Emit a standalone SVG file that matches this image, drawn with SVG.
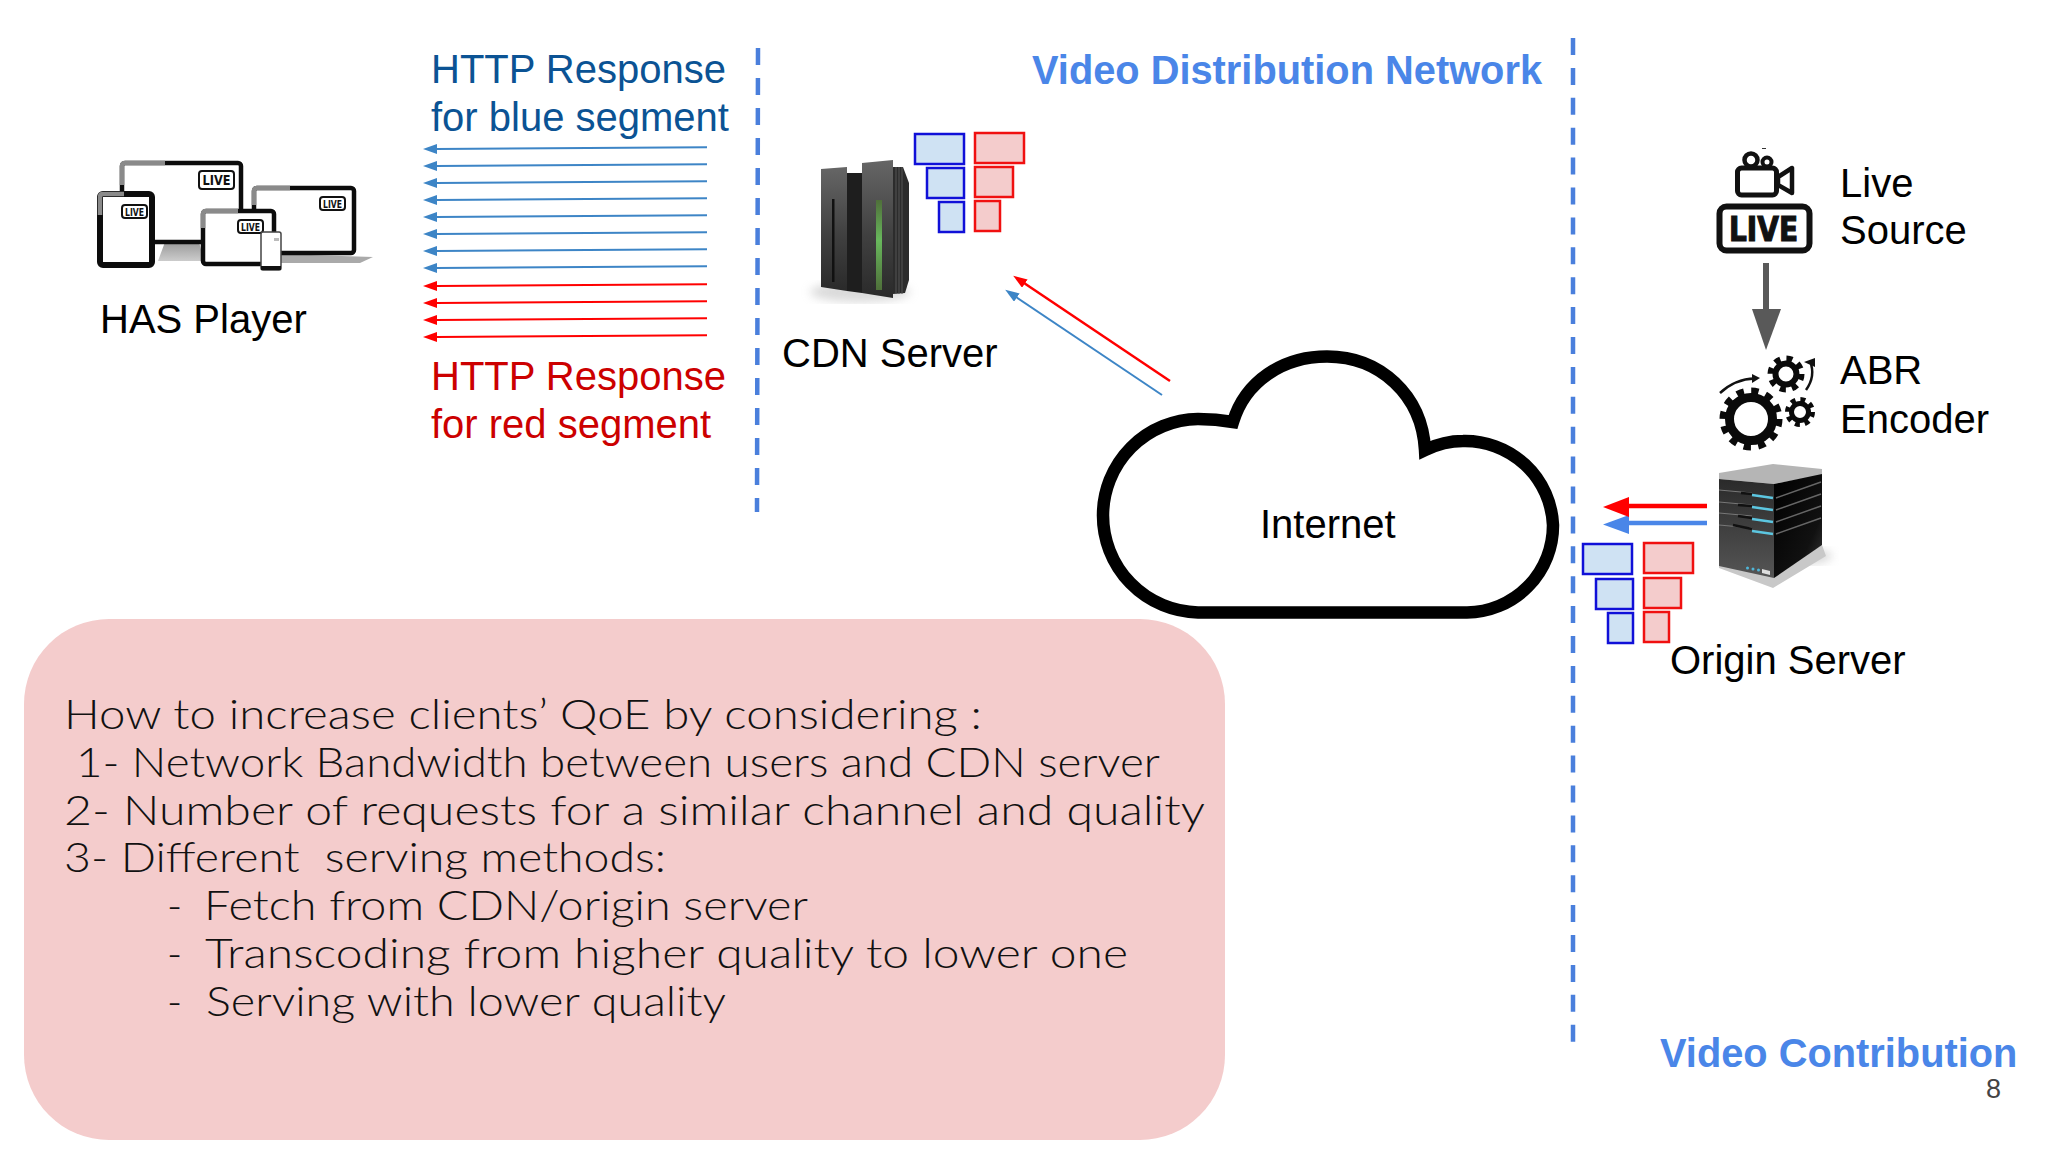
<svg xmlns="http://www.w3.org/2000/svg" width="2048" height="1152" viewBox="0 0 2048 1152">
<style>
text{font-family:"Liberation Sans",Arial,sans-serif;font-size:40px;fill:#000}
.blue{fill:#0b5394}.red{fill:#cc0000}
.title{font-weight:bold;fill:#4a86e8;font-size:39.800px}
.qoe{font-family:"Lato","Noto Sans",sans-serif;font-size:41px;font-weight:300;fill:#111}
.sb{fill:#cfe2f3;stroke:#1010d8;stroke-width:2.500}
.sr{fill:#f4cccc;stroke:#f01010;stroke-width:2.500}
.dash{stroke:#4a7fdc;stroke-width:4.500;fill:none;stroke-dasharray:17 13}
.resp{fill:none;stroke-width:2}
.b{stroke:#3d85c6}.r{stroke:#f00}
.tag{fill:#fff;stroke:#111;stroke-width:2}
.tagt{font-family:"DejaVu Sans",sans-serif;font-weight:bold;font-size:10px;fill:#111}
.dev{fill:#fff;stroke:#0c0c0c;stroke-width:4.500}
.edge{fill:none;stroke:#8a8a8a;stroke-width:4.500}
</style>
<defs>
<marker id="mb" markerUnits="userSpaceOnUse" markerWidth="14" markerHeight="10" refX="1" refY="5" orient="auto"><path d="M0 0L14 5L0 10z" fill="#3d85c6"/></marker>
<marker id="mr" markerUnits="userSpaceOnUse" markerWidth="14" markerHeight="10" refX="1" refY="5" orient="auto"><path d="M0 0L14 5L0 10z" fill="#f00"/></marker>
<linearGradient id="panel" x1="0" y1="0" x2="0" y2="1"><stop offset="0" stop-color="#666"/><stop offset=".55" stop-color="#404040"/><stop offset="1" stop-color="#2a2a2a"/></linearGradient>
<linearGradient id="green" x1="0" y1="0" x2="0" y2="1"><stop offset="0" stop-color="#4f6f3a"/><stop offset=".45" stop-color="#68b85c"/><stop offset="1" stop-color="#4f6f3a"/></linearGradient>
<linearGradient id="face" x1="0" y1="0" x2="0" y2="1"><stop offset="0" stop-color="#2a2a2a"/><stop offset="1" stop-color="#555"/></linearGradient>
<linearGradient id="side" x1="0" y1="0" x2="1" y2="1"><stop offset="0" stop-color="#000"/><stop offset=".7" stop-color="#111"/><stop offset="1" stop-color="#3a3a3a"/></linearGradient>
<linearGradient id="stand" x1="0" y1="0" x2="0" y2="1"><stop offset="0" stop-color="#999"/><stop offset="1" stop-color="#ccc"/></linearGradient>
<filter id="blur"><feGaussianBlur stdDeviation="5"/></filter>
</defs>
<rect width="2048" height="1152" fill="#fff"/>

<g id="qoe-box">
<rect x="24" y="619" width="1201" height="521" rx="85" ry="85" fill="#f4cccc"/>
<text class="qoe" x="64" y="729" textLength="918" lengthAdjust="spacingAndGlyphs">How to increase clients’ QoE by considering :</text>
<text class="qoe" x="76" y="777" textLength="1084" lengthAdjust="spacingAndGlyphs">1- Network Bandwidth between users and CDN server</text>
<text class="qoe" x="64" y="825" textLength="1141" lengthAdjust="spacingAndGlyphs">2- Number of requests for a similar channel and quality</text>
<text class="qoe" x="64" y="872" textLength="602" lengthAdjust="spacingAndGlyphs" xml:space="preserve">3- Different  serving methods:</text>
<text class="qoe" x="167" y="920">-</text><text class="qoe" x="204" y="920" textLength="604" lengthAdjust="spacingAndGlyphs">Fetch from CDN/origin server</text>
<text class="qoe" x="167" y="968">-</text><text class="qoe" x="205" y="968" textLength="923" lengthAdjust="spacingAndGlyphs">Transcoding from higher quality to lower one</text>
<text class="qoe" x="167" y="1016">-</text><text class="qoe" x="206" y="1016" textLength="520" lengthAdjust="spacingAndGlyphs">Serving with lower quality</text>
</g>

<g id="has-player">
<path d="M165 242L199 242L203 257L205 261L158 261Z" fill="url(#stand)"/>
<rect class="dev" x="122" y="163" width="119" height="79" rx="3"/>
<path class="edge" d="M122 185V166Q122 163 125 163H165"/>
<rect class="tag" x="199" y="171" width="35" height="18" rx="3"/><text class="tagt" x="202.500" y="185" textLength="28" lengthAdjust="spacingAndGlyphs" style="font-size:14px">LIVE</text>
<path d="M280 254L373 257L360 263L280 263Z" fill="#aaa"/>
<rect class="dev" x="254" y="188" width="100" height="65" rx="3"/>
<path class="edge" d="M254 205V191Q254 188 257 188H290"/>
<rect class="tag" x="320" y="197" width="25" height="13" rx="3"/><text class="tagt" x="323" y="207.500" textLength="19" lengthAdjust="spacingAndGlyphs">LIVE</text>
<rect class="dev" x="100" y="194" width="52" height="71" rx="3" style="stroke-width:6"/>
<path class="edge" d="M100 215V197Q100 194 103 194H124"/>
<rect class="tag" x="122" y="205" width="25" height="13" rx="3"/><text class="tagt" x="125" y="215.500" textLength="19" lengthAdjust="spacingAndGlyphs">LIVE</text>
<rect class="dev" x="203" y="211" width="71" height="53" rx="3"/>
<path class="edge" d="M203 228V214Q203 211 206 211H238"/>
<rect class="tag" x="238" y="220" width="25" height="13" rx="3"/><text class="tagt" x="241" y="230.500" textLength="19" lengthAdjust="spacingAndGlyphs">LIVE</text>
<rect x="261" y="232" width="20" height="38" rx="2" fill="#fff" stroke="#444" stroke-width="1.500"/>
<rect x="261" y="266" width="20" height="4" fill="#111"/>
<rect x="274" y="238" width="5" height="3" fill="#bbb"/>
<text x="100" y="333">HAS Player</text>
</g>

<g id="response-labels">
<text class="blue" x="431" y="83">HTTP Response</text>
<text class="blue" x="431" y="131">for blue segment</text>
<text class="red" x="431" y="390">HTTP Response</text>
<text class="red" x="431" y="438">for red segment</text>
</g>

<g id="boundaries">
<path class="dash" d="M758 48L757 512"/>
<path class="dash" d="M1573 38V1042" style="stroke-dasharray:17 12.900"/>
<text class="title" x="1032" y="84">Video Distribution Network</text>
<text class="title" x="1660" y="1067">Video Contribution</text>
<text x="1986" y="1098" style="font-size:27px;fill:#444">8</text>
</g>

<g id="cdn-server">
<ellipse cx="860" cy="292" rx="50" ry="10" fill="#bbb" opacity=".55" filter="url(#blur)"/>
<path d="M893 167L903 167L909 183L909 280L905 293L893 294Z" fill="#2c2c2c"/>
<path d="M896 167V294M899 167V294M902 167V294" stroke="#555" stroke-width="1"/>
<path d="M847 173H862V293L847 291Z" fill="#1e1e1e"/>
<path d="M821 169L847 167V291L821 287Z" fill="url(#panel)"/>
<path d="M862 163L893 160V298L862 293Z" fill="url(#panel)"/>
<rect x="832" y="199" width="2.500" height="83" fill="#111"/>
<rect x="876" y="200" width="6" height="90" fill="url(#green)"/>
<rect class="sb" x="915" y="134" width="49" height="30"/>
<rect class="sb" x="927" y="168" width="37" height="30"/>
<rect class="sb" x="939" y="202" width="25" height="30"/>
<rect class="sr" x="975" y="133" width="49" height="30"/>
<rect class="sr" x="975" y="167" width="38" height="30"/>
<rect class="sr" x="975" y="201" width="25" height="30"/>
<text x="782" y="367">CDN Server</text>
</g>

<g id="internet">
<path d="M1198 612.500H1467A87 87 0 0 0 1553 525A88 88 0 0 0 1463 441Q1444 441 1425 450C1422 395 1380 356.500 1327 356.500C1282 356.500 1245 382 1233 422Q1216 419 1198 419A96.500 96.500 0 0 0 1103 515A97 97 0 0 0 1198 612.500Z" fill="#fff" stroke="#000" stroke-width="12.500" stroke-linejoin="miter"/>
<text x="1260" y="538">Internet</text>
</g>

<g id="live-source">
<rect x="1719.500" y="206.500" width="90" height="44" rx="7" fill="#fff" stroke="#111" stroke-width="6"/>
<text x="1729" y="241" textLength="69" lengthAdjust="spacingAndGlyphs" style="font-family:'DejaVu Sans',sans-serif;font-weight:bold;font-size:33px;fill:#111;stroke:#111;stroke-width:1.200">LIVE</text>
<rect x="1737.500" y="168" width="39" height="27" rx="4" fill="#fff" stroke="#111" stroke-width="5"/>
<path d="M1778 177L1792 168V193L1778 185Z" fill="#fff" stroke="#111" stroke-width="4.500" stroke-linejoin="round"/>
<circle cx="1751" cy="160" r="6.500" fill="#fff" stroke="#111" stroke-width="4.500"/>
<circle cx="1767" cy="162" r="4.500" fill="#fff" stroke="#111" stroke-width="4"/>
<path d="M1762 148.500h4" stroke="#333" stroke-width="1"/>
<text x="1840" y="197">Live</text>
<text x="1840" y="244">Source</text>
</g>

<g id="abr-encoder">
<circle cx="1751" cy="419" r="27.500" fill="none" stroke="#0a0a0a" stroke-width="8" stroke-dasharray="7.200 7.200"/>
<circle cx="1751" cy="419" r="21.500" fill="#fff" stroke="#0a0a0a" stroke-width="9"/>
<circle cx="1786" cy="374" r="15.500" fill="none" stroke="#0a0a0a" stroke-width="6" stroke-dasharray="6 6.170"/>
<circle cx="1786" cy="374" r="10.500" fill="#fff" stroke="#0a0a0a" stroke-width="6"/>
<circle cx="1800" cy="412" r="12.500" fill="none" stroke="#0a0a0a" stroke-width="5" stroke-dasharray="4.900 4.920"/>
<circle cx="1800" cy="412" r="8.500" fill="#fff" stroke="#0a0a0a" stroke-width="5"/>
<path d="M1720 393Q1735 379 1755 378.500" fill="none" stroke="#111" stroke-width="2.500"/>
<path d="M1752 374L1760 378L1752 383Z" fill="#111"/>
<path d="M1806 390Q1816 376 1810 361" fill="none" stroke="#111" stroke-width="2.500"/>
<path d="M1804 362L1815 358L1815 367Z" fill="#111"/>
<text x="1840" y="384">ABR</text>
<text x="1840" y="433">Encoder</text>
</g>

<g id="origin-server">
<ellipse cx="1800" cy="556" rx="32" ry="8" fill="#bbb" opacity=".6" filter="url(#blur)"/>
<path d="M1719 568L1773 588L1826 556L1822 545L1774 574L1719 562Z" fill="#c8c8c8"/>
<path d="M1719 473L1773 464L1822 469V475L1774 484L1719 479Z" fill="#b5b5b5"/>
<path d="M1719 479L1774 484V578L1719 566Z" fill="url(#face)"/>
<path d="M1774 484L1822 474V545L1774 578Z" fill="url(#side)"/>
<path d="M1719 490L1752 493M1719 502L1752 505M1719 513L1752 516M1719 525L1752 528" stroke="#777" stroke-width="1"/>
<path d="M1741 493L1752 494M1738 505L1752 506M1738 516L1752 518M1733 525L1752 529" stroke="#111" stroke-width="2.500"/>
<path d="M1752 495L1773 498M1752 507L1773 510M1752 519L1773 522M1752 531L1773 534" stroke="#5cc6e0" stroke-width="2.500"/>
<path d="M1776 498L1821 482M1776 510L1821 494M1776 522L1821 506M1776 534L1821 518" stroke="#666" stroke-width="1.500"/>
<circle cx="1747.500" cy="568" r="1.500" fill="#4fb6d8"/><circle cx="1753" cy="569" r="1.500" fill="#4fb6d8"/><circle cx="1758.500" cy="570" r="1.500" fill="#4fb6d8"/>
<path d="M1762 569L1770 571V575L1762 573Z" fill="#ddd"/>
<rect class="sb" x="1583" y="544" width="49" height="30"/>
<rect class="sb" x="1596" y="579" width="37" height="30"/>
<rect class="sb" x="1608" y="613" width="25" height="30"/>
<rect class="sr" x="1644" y="543" width="49" height="30"/>
<rect class="sr" x="1644" y="578" width="37" height="30"/>
<rect class="sr" x="1644" y="612" width="25" height="30"/>
<text x="1670" y="674">Origin Server</text>
</g>

<g id="connectors">
<path class="resp b" d="M707 147.300L436 149" marker-end="url(#mb)"/>
<path class="resp b" d="M707 164.300L436 166" marker-end="url(#mb)"/>
<path class="resp b" d="M707 181.300L436 183" marker-end="url(#mb)"/>
<path class="resp b" d="M707 198.300L436 200" marker-end="url(#mb)"/>
<path class="resp b" d="M707 215.300L436 217" marker-end="url(#mb)"/>
<path class="resp b" d="M707 232.300L436 234" marker-end="url(#mb)"/>
<path class="resp b" d="M707 249.300L436 251" marker-end="url(#mb)"/>
<path class="resp b" d="M707 266.300L436 268" marker-end="url(#mb)"/>
<path class="resp r" d="M707 284.300L436 286" marker-end="url(#mr)"/>
<path class="resp r" d="M707 301.300L436 303" marker-end="url(#mr)"/>
<path class="resp r" d="M707 318.300L436 320" marker-end="url(#mr)"/>
<path class="resp r" d="M707 335.300L436 337" marker-end="url(#mr)"/>
<path class="resp r" d="M1170 381L1024 283" marker-end="url(#mr)" style="stroke-width:2.500"/>
<path class="resp b" d="M1162 395L1016 297" marker-end="url(#mb)"/>
<path d="M1707 523H1629" stroke="#4a86e8" stroke-width="4.500"/>
<path d="M1629 515V534L1603 524.500Z" fill="#4a86e8"/>
<path d="M1707 506H1629" stroke="#f00" stroke-width="4.500"/>
<path d="M1629 497V517L1603 507Z" fill="#f00"/>
<path d="M1766 263V312" stroke="#595959" stroke-width="6"/>
<path d="M1752 309H1781L1766 350Z" fill="#595959"/>
</g>
</svg>
